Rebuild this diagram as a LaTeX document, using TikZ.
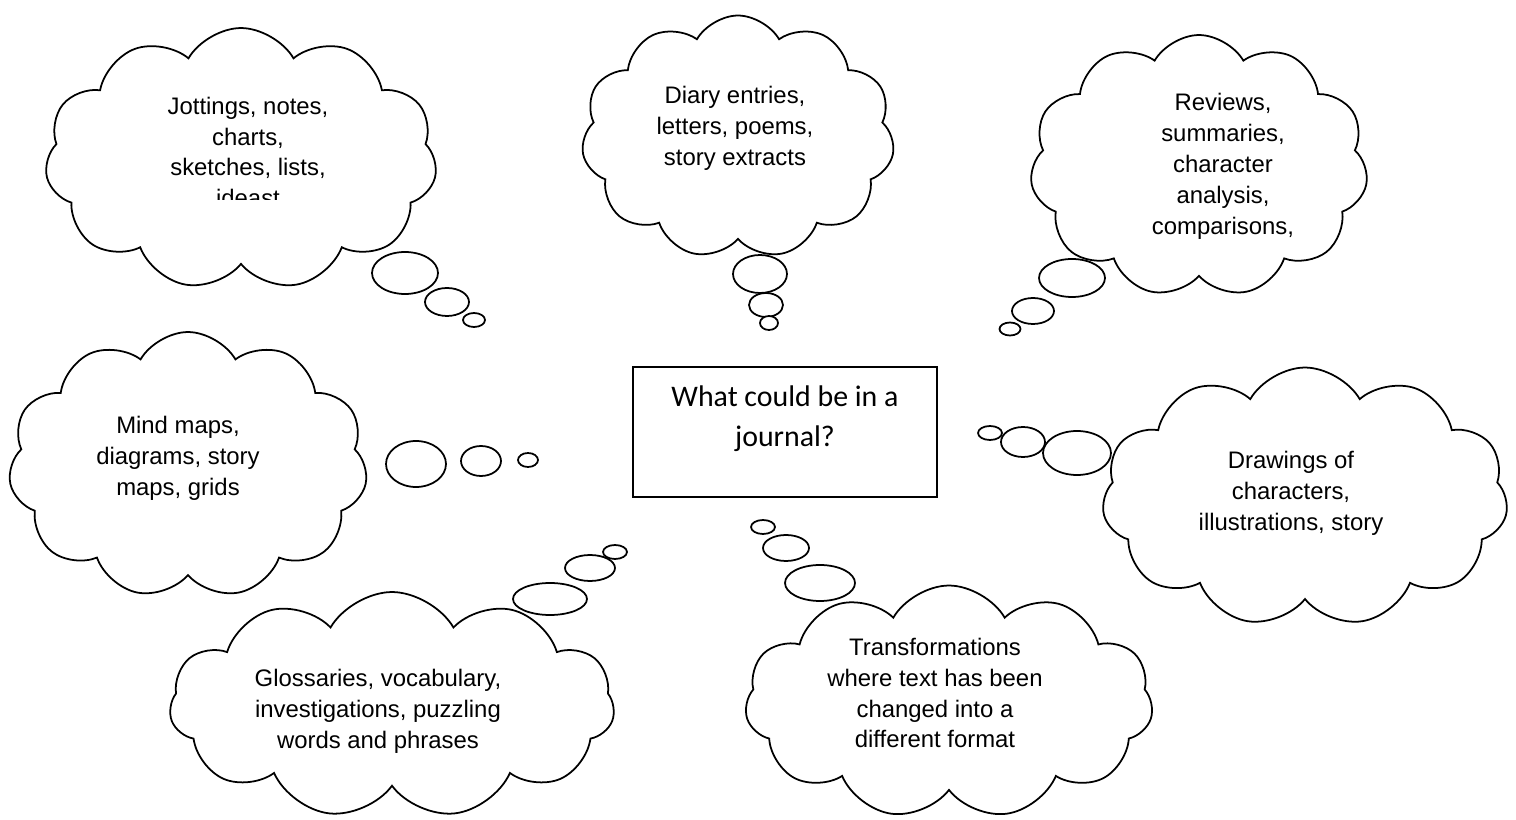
\documentclass[tikz,border=0pt]{standalone}
\usepackage{fontspec}
\setmainfont{Liberation Sans}
\newfontfamily\boxfont{Carlito}
\usepackage{tikz}
\usetikzlibrary{positioning,shapes.symbols,shapes.geometric}
\tikzstyle{thought}  = [cloud, cloud puffs=11, cloud puff arc=120, cloud ignores aspect, draw=black, fill=white, line width=1pt, inner sep=0pt]
\tikzstyle{bubble}   = [ellipse, draw=black, fill=white, line width=1pt, inner sep=0pt]
\tikzstyle{idea}     = [align=center, inner sep=0pt, font=\fontsize{13.6}{17.6}\selectfont]
\tikzstyle{question} = [rectangle, draw=black, line width=1pt, minimum width=6.08cm, minimum height=2.6cm]
\tikzstyle{qtext}    = [align=center, inner sep=0pt, font=\boxfont\fontsize{17}{22.7}\selectfont]

\begin{document}
\begin{tikzpicture}[x=0.02cm, y=-0.02cm]
        \useasboundingbox (0,0) rectangle (1516,820);

        % the clouds
        \node[thought, minimum width=7.84cm, minimum height=5.24cm] (jot)   at (241,159)  {};
        \node[thought, minimum width=6.26cm, minimum height=4.86cm] (diary) at (738,137)  {};
        \node[thought, minimum width=6.76cm, minimum height=5.24cm] (rev)   at (1199,166) {};
        \node[thought, minimum width=7.18cm, minimum height=5.32cm] (mind)  at (188,465)  {};
        \node[thought, minimum width=8.12cm, minimum height=5.18cm] (draw)  at (1305,497) {};
        \node[thought, minimum width=8.90cm, minimum height=4.52cm] (gloss) at (392,705)  {};
        \node[thought, minimum width=8.16cm, minimum height=4.66cm] (trans) at (949,702)  {};

        % the little bubbles
        \node[bubble, minimum width=1.32cm, minimum height=.84cm] (jot1) at (405,273) {};
        \node[bubble, minimum width=.88cm, minimum height=.56cm]  (jot2) at (447,302) {};
        \node[bubble, minimum width=.44cm, minimum height=.28cm]  (jot3) at (474,320) {};

        \node[bubble, minimum width=1.08cm, minimum height=.76cm] (diary1) at (760,274) {};
        \node[bubble, minimum width=.68cm, minimum height=.48cm]  (diary2) at (766,305) {};
        \node[bubble, minimum width=.36cm, minimum height=.28cm]  (diary3) at (769,323) {};

        \node[bubble, minimum width=1.32cm, minimum height=.76cm] (rev1) at (1072,278) {};
        \node[bubble, minimum width=.84cm, minimum height=.52cm]  (rev2) at (1033,311) {};
        \node[bubble, minimum width=.42cm, minimum height=.26cm]  (rev3) at (1010,329) {};

        \node[bubble, minimum width=1.2cm, minimum height=.92cm] (mind1) at (416,464) {};
        \node[bubble, minimum width=.8cm, minimum height=.6cm]   (mind2) at (481,461) {};
        \node[bubble, minimum width=.4cm, minimum height=.28cm]  (mind3) at (528,460) {};

        \node[bubble, minimum width=1.36cm, minimum height=.88cm] (draw1) at (1077,453) {};
        \node[bubble, minimum width=.88cm, minimum height=.6cm]   (draw2) at (1023,442) {};
        \node[bubble, minimum width=.48cm, minimum height=.28cm]  (draw3) at (990,433)  {};

        \node[bubble, minimum width=1.48cm, minimum height=.64cm] (gloss1) at (550,599) {};
        \node[bubble, minimum width=1.0cm, minimum height=.52cm]  (gloss2) at (590,568) {};
        \node[bubble, minimum width=.48cm, minimum height=.28cm]  (gloss3) at (615,552) {};

        \node[bubble, minimum width=1.4cm, minimum height=.72cm]  (trans1) at (820,583) {};
        \node[bubble, minimum width=.92cm, minimum height=.52cm]  (trans2) at (786,548) {};
        \node[bubble, minimum width=.48cm, minimum height=.28cm]  (trans3) at (763,527) {};

        % the middle box
        \node[question] (q) at (785,432) {};
        \node[qtext, below=0.38cm of q.north] (qtxt) {What could be in a\\ journal?};

        % the texts
        \begin{scope}
            \clip (120,20) rectangle (380,200);
            \node[idea] (jottxt) at (248,152) {Jottings, notes,\\ charts,\\ sketches, lists,\\ ideast};
        \end{scope}
        \node[idea] (diarytxt) at (735,128)  {Diary entries,\\ letters, poems,\\ story extracts};
        \node[idea] (revtxt)   at (1223,166) {Reviews,\\ summaries,\\ character\\ analysis,\\ comparisons,};
        \node[idea] (mindtxt)  at (178,458)  {Mind maps,\\ diagrams, story\\ maps, grids};
        \node[idea] (drawtxt)  at (1291,493) {Drawings of\\ characters,\\ illustrations, story};
        \node[idea] (glosstxt) at (378,711)  {Glossaries, vocabulary,\\ investigations, puzzling\\ words and phrases};
        \node[idea] (transtxt) at (935,693)  {Transformations\\ where text has been\\ changed into a\\ different format};
    \end{tikzpicture}
\end{document}
